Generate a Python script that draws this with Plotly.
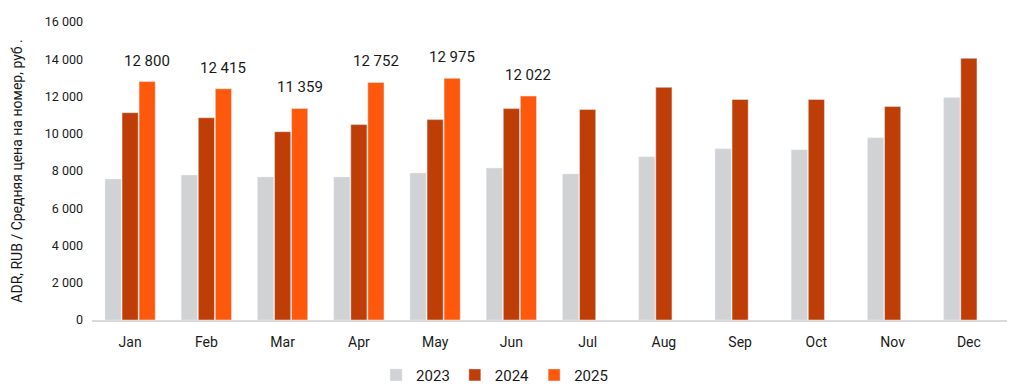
import plotly.graph_objects as go

months = ["Jan", "Feb", "Mar", "Apr", "May", "Jun", "Jul", "Aug", "Sep", "Oct", "Nov", "Dec"]
adr_2023 = [7570, 7780, 7675, 7675, 7890, 8160, 7840, 8760, 9190, 9135, 9780, 11950]
adr_2024 = [11130, 10860, 10110, 10490, 10760, 11350, 11300, 12490, 11840, 11840, 11460, 14050]
months_2025 = ["Jan", "Feb", "Mar", "Apr", "May", "Jun"]
adr_2025 = [12800, 12415, 11359, 12752, 12975, 12022]

FONT = "Roboto, Arial"

fig = go.Figure()
fig.add_trace(go.Bar(name="2023", x=months, y=adr_2023, marker_color="#d1d2d4"))
fig.add_trace(go.Bar(name="2024", x=months, y=adr_2024, marker_color="#bf3e07"))
fig.add_trace(go.Bar(name="2025", x=months_2025, y=adr_2025, marker_color="#fe580c"))

def fmt(v):
    return f"{v:,}".replace(",", " ")

for m, v in zip(months_2025, adr_2025):
    fig.add_annotation(x=m, y=v, text=fmt(v), showarrow=False, xref="x", yref="y",
                       xshift=17, yshift=21, font=dict(family=FONT, size=15, color="#1a1a1a"))

fig.update_layout(
    width=1030, height=391,
    margin=dict(l=84, r=31, t=14, b=79, autoexpand=False),
    plot_bgcolor="white", paper_bgcolor="white",
    barmode="group", bargap=0.33, bargroupgap=0.05,
    separators=", ",
    font=dict(family=FONT, size=13, color="#1a1a1a"),
    legend=dict(orientation="h", x=0.44, xanchor="center", y=-0.185, yanchor="middle",
                font=dict(family=FONT, size=15), itemwidth=30, tracegroupgap=0),
    xaxis=dict(showline=True, linecolor="#d9d9d9", linewidth=2, ticks="",
               tickfont=dict(size=14), showgrid=False, automargin=False, ticklabelstandoff=8),
    yaxis=dict(range=[0, 16000], dtick=2000, tickformat=",d", showgrid=False,
               zeroline=False, showline=False, tickfont=dict(size=12.5), automargin=False,
               ticklabelstandoff=8,
               title=dict(text="ADR, RUB / Средняя цена на номер, руб .", font=dict(size=14), standoff=18)),
)

fig.write_html("out.html")
